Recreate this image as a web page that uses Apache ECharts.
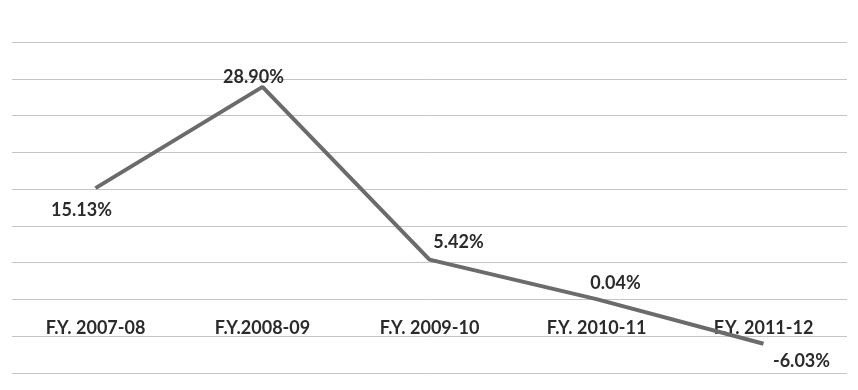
<!DOCTYPE html>
<html>
<head>
<meta charset="utf-8">
<script src="https://cdn.jsdelivr.net/npm/echarts@6/dist/echarts.min.js"></script>
<style>
  html, body { margin: 0; padding: 0; background: #fff; }
  #chart { width: 858px; height: 390px; }
</style>
</head>
<body>
<div id="chart"></div>
<script>
const years = ["F.Y. 2007-08", "F.Y.2008-09", "F.Y. 2009-10", "F.Y. 2010-11", "F.Y. 2011-12"];
const growth = [15.13, 28.90, 5.42, 0.04, -6.03];
const yTicks = { min: -10, max: 35, step: 5 };
// where each value label sits relative to its point (px)
const labelOffsets = [[-14, 22], [-9, -10], [29, -17], [19, -16], [38, 17]];

const myChart = echarts.init(document.getElementById("chart"));

const points = growth.map((v, i) => {
  return {
    value: v,
    label: { offset: labelOffsets[i] },
  };
});

// plot area is 331px tall; move the category axis up to the zero line
const plotH = 390 - 42 - 17;
const zeroShift = (plotH * (0 - yTicks.min)) / (yTicks.max - yTicks.min);

myChart.setOption({
  animation: false,
  grid: {
    top: 42,
    left: 12,
    right: 11,
    bottom: 17,
    containLabel: false,
    outerBoundsMode: "none",
  },
  xAxis: {
    type: "category",
    data: years,
    offset: -zeroShift,
    axisLine: { show: false, onZero: false },
    axisTick: { show: false },
    axisLabel: {
      margin: 20,
      fontFamily: "Lato",
      fontWeight: "bold",
      fontSize: 18,
      color: "#2b2b2b",
    },
  },
  yAxis: {
    type: "value",
    min: yTicks.min,
    max: yTicks.max,
    interval: yTicks.step,
    axisLine: { show: false },
    axisTick: { show: false },
    axisLabel: { show: false },
    splitLine: {
      lineStyle: { color: "#c4c4c4", width: 1 },
    },
  },
  series: [
    {
      type: "line",
      data: points,
      symbol: "circle",
      symbolSize: 2,
      itemStyle: { color: "transparent" },
      lineStyle: { color: "#6b6b6b", width: 4 },
      label: {
        show: true,
        position: "inside",
        formatter: (p) => p.value.toFixed(2) + "%",
        fontFamily: "Lato",
        fontWeight: "bold",
        fontSize: 18,
        color: "#2b2b2b",
      },
    },
  ],
});
</script>
</body>
</html>
